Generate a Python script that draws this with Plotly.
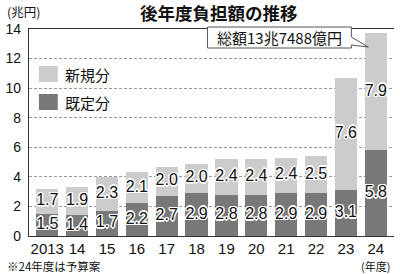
import plotly.graph_objects as go

years = ["2013", "14", "15", "16", "17", "18", "19", "20", "21", "22", "23", "24"]
existing = [1.5, 1.4, 1.7, 2.2, 2.7, 2.9, 2.8, 2.8, 2.9, 2.9, 3.1, 5.8]
new = [1.7, 1.9, 2.3, 2.1, 2.0, 2.0, 2.4, 2.4, 2.4, 2.5, 7.6, 7.9]
y_ticks = [0, 2, 4, 6, 8, 10, 12, 14]

DARK = "#787878"
LIGHT = "#cccccc"
NUM_FONT = "Liberation Sans, Arial, sans-serif"
JP_FONT = "Noto Sans CJK JP, sans-serif"

W, H = 400, 274
L, R, T, B = 26, 6, 29, 38
PW, PH = W - L - R, H - T - B


def px(x):
    return (x - L) / PW


def py(y):
    return 1 - (y - T) / PH


halo = ",".join(f"{dx}px {dy}px 0 #fff" for dx, dy in
                [(-1.5, 0), (1.5, 0), (0, -1.5), (0, 1.5), (-1, -1), (1, 1), (-1, 1), (1, -1)])

fig = go.Figure()
fig.add_trace(go.Bar(x=years, y=existing, name="既定分", marker=dict(color=DARK, line=dict(width=0)),
                     showlegend=False, hoverinfo="skip"))
fig.add_trace(go.Bar(x=years, y=new, name="新規分", marker=dict(color=LIGHT, line=dict(width=0)),
                     showlegend=False, hoverinfo="skip"))

fig.add_trace(go.Scatter(
    x=years, y=[e / 2 for e in existing], mode="text",
    text=[f"{v:.1f}" for v in existing],
    textfont=dict(family=NUM_FONT, size=16, color="#111", shadow=halo),
    showlegend=False, hoverinfo="skip"))
fig.add_trace(go.Scatter(
    x=years, y=[e + n / 2 for e, n in zip(existing, new)], mode="text",
    text=[f"{v:.1f}" for v in new],
    textfont=dict(family=NUM_FONT, size=16, color="#111", shadow=halo),
    showlegend=False, hoverinfo="skip"))

shapes = []
annotations = []

# legend
for (y0, y1), col, lab in [((66, 82), LIGHT, "新規分"), ((94, 110), DARK, "既定分")]:
    shapes.append(dict(type="rect", xref="paper", yref="paper",
                       x0=px(36), x1=px(55), y0=py(y1), y1=py(y0),
                       fillcolor=col, line=dict(width=0)))
    annotations.append(dict(xref="paper", yref="paper", x=px(60), y=py((y0 + y1) / 2),
                            text=lab, showarrow=False, xanchor="left", yanchor="middle",
                            font=dict(family=JP_FONT, size=15, color="#111")))

# callout
pts = [(206, 27), (351, 27), (351, 37), (368, 47), (351, 45), (351, 48), (206, 48)]
path = "M " + " L ".join(f"{px(a):.5f},{py(b):.5f}" for a, b in pts) + " Z"
shapes.append(dict(type="path", xref="paper", yref="paper", path=path,
                   fillcolor="white", line=dict(color="#555", width=1), layer="above"))
annotations.append(dict(xref="paper", yref="paper", x=px(278.5), y=py(37.5),
                        text="総額13兆7488億円", showarrow=False, xanchor="center", yanchor="middle",
                        font=dict(family=JP_FONT, size=15, color="#111")))

# title & notes
annotations.append(dict(xref="paper", yref="paper", x=px(218), y=py(12),
                        text="<b>後年度負担額の推移</b>", showarrow=False, xanchor="center", yanchor="middle",
                        font=dict(family=JP_FONT, size=17.5, color="#111")))
annotations.append(dict(xref="paper", yref="paper", x=px(2), y=py(11.5),
                        text="(兆円)", showarrow=False, xanchor="left", yanchor="middle",
                        font=dict(family=JP_FONT, size=12.5, color="#111")))
annotations.append(dict(xref="paper", yref="paper", x=px(2), y=py(265.5),
                        text="※24年度は予算案", showarrow=False, xanchor="left", yanchor="middle",
                        font=dict(family=JP_FONT, size=11.5, color="#111")))
annotations.append(dict(xref="paper", yref="paper", x=px(392), y=py(266),
                        text="(年度)", showarrow=False, xanchor="right", yanchor="middle",
                        font=dict(family=JP_FONT, size=11, color="#111")))

fig.update_layout(
    width=W, height=H, margin=dict(l=L, r=R, t=T, b=B),
    paper_bgcolor="white", plot_bgcolor="white",
    barmode="stack", bargap=0.25,
    shapes=shapes, annotations=annotations,
    showlegend=False,
)
fig.update_xaxes(type="category", showline=True, linecolor="#333", linewidth=1.2, mirror=True,
                 ticks="", showgrid=False, ticklabelstandoff=-1,
                 tickfont=dict(family=NUM_FONT, size=15, color="#111"))
fig.update_yaxes(range=[0, 14], tickvals=y_ticks, showline=True, linecolor="#333", linewidth=1.2,
                 mirror=False, ticks="", showgrid=True, gridcolor="#999", griddash="3px,2px",
                 gridwidth=1, zeroline=False, ticklabelstandoff=4,
                 tickfont=dict(family=NUM_FONT, size=14, color="#111"))

fig.write_html("out.html")
